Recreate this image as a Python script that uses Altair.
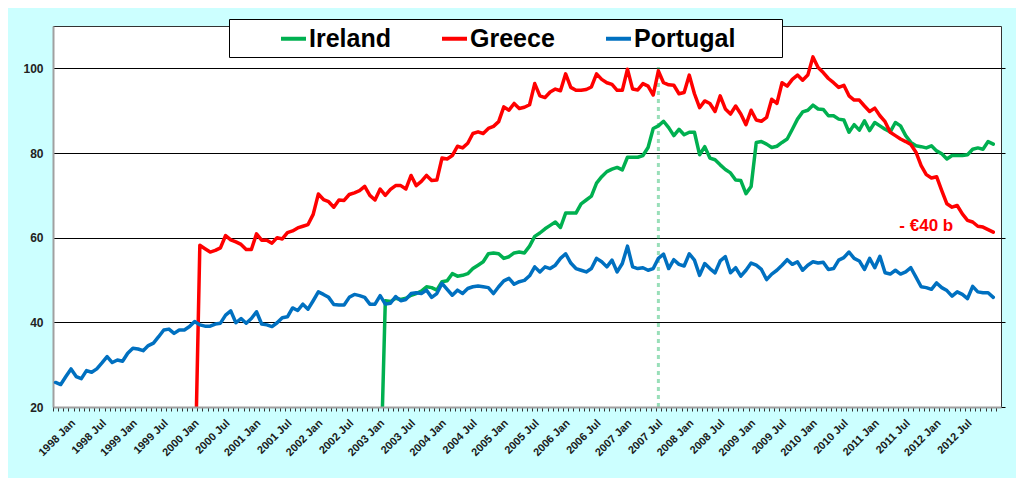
import altair as alt
import pandas as pd

# ---------------- data ----------------
START_YEAR = 1997
START_MONTH = 10          # first category: 1997 Oct
N_CATEGORIES = 184        # 1997 Oct .. 2013 Jan (last one empty)

series_names = ["Ireland", "Greece", "Portugal"]
series_colors = ["#00B050", "#FF0000", "#0070C0"]

ireland = [None] * 63 + [
    0,
    45.1, 44.9, 45.7, 45.4, 45.7, 46.4, 46.8, 47.4, 48.4, 48.2,
    47.6, 49.6, 49.8, 51.5, 50.9, 51.1, 51.5, 52.7, 53.5, 54.3,
    56.2, 56.4, 56.2, 55.1, 55.5, 56.4, 56.6, 56.4, 58.0, 60.3,
    61.1, 62.1, 62.9, 63.7, 62.4, 65.8, 65.8, 65.8, 68.0, 68.9,
    69.8, 72.9, 74.4, 75.6, 76.2, 76.6, 76.0, 79.0, 79.0, 79.0,
    79.4, 81.3, 85.8, 86.4, 87.5, 86.0, 84.1, 85.6, 84.3, 84.9,
    84.9, 79.6, 81.5, 78.8, 78.4, 77.2, 76.1, 75.3, 73.6, 73.5,
    70.4, 72.1, 82.5, 82.7, 82.1, 81.3, 81.6, 82.5, 83.3, 85.6,
    88.0, 89.7, 90.1, 91.3, 90.4, 90.3, 88.8, 88.8, 88.0, 87.8,
    84.9, 86.7, 85.4, 87.6, 85.3, 87.2, 86.4, 85.6, 85.0, 87.2,
    86.4, 84.1, 82.5, 81.7, 81.5, 81.2, 81.7, 80.5, 79.8, 78.6,
    79.4, 79.4, 79.4, 79.6, 80.9, 81.2, 80.9, 82.7, 82.1,
]

greece = [None] * 27 + [
    0,
    58.2, 57.4, 56.6, 57.0, 57.6, 60.5, 59.5, 59.0, 58.4, 57.2,
    57.2, 60.9, 59.4, 59.4, 58.7, 60.0, 59.7, 61.2, 61.6, 62.3,
    62.7, 63.1, 65.5, 70.3, 69.0, 68.5, 67.2, 68.9, 68.8, 70.2,
    70.6, 71.1, 72.1, 70.0, 68.9, 71.5, 70.0, 71.4, 72.3, 72.3,
    71.5, 74.7, 72.3, 73.3, 74.7, 73.5, 73.6, 78.8, 78.6, 79.4,
    81.6, 81.2, 82.3, 84.6, 85.0, 84.6, 85.8, 86.3, 87.4, 90.9,
    90.1, 91.7, 90.5, 90.8, 91.4, 96.4, 93.5, 93.1, 94.4, 95.1,
    94.7, 98.7, 95.5, 94.8, 94.8, 95.0, 95.6, 98.7, 97.4, 96.6,
    96.2, 94.8, 94.8, 99.8, 95.1, 94.9, 96.4, 95.8, 93.7, 99.4,
    96.6, 96.1, 96.0, 94.0, 94.3, 98.4, 94.0, 90.7, 92.3, 91.7,
    89.8, 93.5, 90.4, 89.2, 91.1, 89.2, 86.7, 90.1, 87.8, 87.5,
    88.4, 92.7, 91.7, 96.6, 95.8, 97.4, 98.4, 97.2, 98.4, 102.7,
    100.2, 99.0, 97.6, 96.6, 95.5, 96.0, 93.5, 92.5, 92.5, 91.1,
    89.8, 90.6, 88.8, 87.4, 84.9, 84.1, 83.3, 82.7, 82.0, 80.2,
    77.0, 74.9, 74.1, 74.4, 71.1, 68.0, 67.2, 67.6, 65.6, 64.1,
    63.7, 62.7, 62.5, 61.9, 61.3,
]

portugal = [
    25.8, 25.3, 27.2, 29.0, 27.2, 26.7, 28.6, 28.2, 29.0, 30.4,
    31.9, 30.5, 31.1, 30.8, 32.7, 33.9, 33.7, 33.3, 34.5, 35.1,
    36.6, 38.2, 38.4, 37.4, 38.2, 38.2, 39.0, 40.2, 39.4, 39.1,
    39.1, 39.6, 39.8, 41.7, 42.7, 39.9, 40.9, 39.8, 40.9, 42.5,
    39.6, 39.4, 39.0, 39.9, 41.1, 41.3, 43.4, 42.8, 44.3, 43.1,
    45.1, 47.2, 46.6, 45.9, 44.2, 44.1, 44.1, 45.9, 46.6, 46.3,
    45.9, 44.3, 44.3, 46.3, 44.3, 44.5, 46.1, 45.1, 45.4, 46.8,
    47.0, 46.8, 47.6, 45.9, 46.8, 49.2, 47.8, 46.4, 47.6, 46.8,
    48.0, 48.4, 48.6, 48.4, 48.2, 46.8, 48.4, 49.8, 50.4, 49.0,
    49.6, 49.9, 51.0, 53.1, 51.9, 53.1, 52.7, 53.5, 55.1, 56.2,
    54.0, 52.7, 52.3, 51.9, 52.7, 55.1, 54.3, 53.1, 54.7, 51.9,
    53.9, 58.0, 53.1, 52.7, 52.9, 52.3, 52.7, 55.1, 56.1, 52.7,
    54.8, 53.7, 53.3, 56.2, 54.7, 51.1, 53.9, 52.7, 51.7, 54.5,
    55.5, 51.7, 52.9, 50.9, 52.3, 54.0, 53.5, 52.5, 50.1, 51.4,
    52.3, 53.5, 54.8, 53.7, 54.3, 52.3, 53.5, 54.3, 54.0, 54.2,
    52.5, 52.7, 54.7, 55.3, 56.6, 55.1, 54.5, 52.5, 55.1, 52.9,
    55.6, 51.7, 51.4, 52.3, 51.4, 51.9, 52.9, 50.7, 48.4, 48.2,
    47.8, 49.3, 48.2, 47.5, 46.2, 47.2, 46.6, 45.6, 48.5, 47.2,
    47.0, 47.0, 45.9,
]

MON = ["Jan", "Feb", "Mar", "Apr", "May", "Jun", "Jul", "Aug", "Sep", "Oct", "Nov", "Dec"]
months = []                     # category labels, 1997 Oct .. 2013 Jan
for i in range(N_CATEGORIES):
    k = START_MONTH - 1 + i
    months.append(f"{START_YEAR + k // 12} {MON[k % 12]}")

tick_labels = [f"{y} {m}" for y in range(1998, 2013) for m in ("Jan", "Jul")]

marker_month = "2007 Jul"
marker_range = [20, 100.5]

annotation_text = "- €40 b"
annotation_month = "2011 Nov"
annotation_value = 62.7

# ---------------- tables ----------------
rows = []
for name, vals in zip(series_names, [ireland, greece, portugal]):
    for i, v in enumerate(vals):
        if v is not None:
            rows.append({"series": name, "month": months[i], "value": v})
df = pd.DataFrame(rows)

marker_df = pd.DataFrame([{"month": marker_month,
                           "value": marker_range[0], "value2": marker_range[1]}])
annot_df = pd.DataFrame([{"month": annotation_month,
                          "value": annotation_value, "text": annotation_text}])

W, H = 948, 381
STEP = W / N_CATEGORIES
FONT = "Liberation Sans"

x_scale = alt.Scale(type="point", domain=months, padding=0.5)
y_scale = alt.Scale(domain=[20, 110], nice=False, zero=False)

# axis with the monthly ticks (between categories) and the axis line
x_ticks = alt.X(
    "month:O", scale=x_scale,
    axis=alt.Axis(
        orient="bottom", labels=False, tickSize=4, tickOffset=-STEP / 2,
        tickColor="#333333", tickWidth=1, domainColor="#A0A0A0", domainWidth=2,
        grid=False, title=None, zindex=1,
    ),
)
# axis with the rotated half-year labels
x_labels = alt.X(
    "month:O", scale=x_scale,
    axis=alt.Axis(
        orient="bottom", values=tick_labels,
        labelAngle=315, labelAlign="right", labelBaseline="top",
        labelOffset=-2, labelPadding=10, labelOverlap=False, labelBound=False,
        labelFlush=False, labelFont=FONT, labelFontSize=11,
        labelFontWeight="bold", labelColor="#1a1a1a",
        ticks=False, tickSize=0, domain=False, grid=False, title=None, zindex=1,
    ),
)
y_left = alt.Y(
    "value:Q", scale=y_scale,
    axis=alt.Axis(
        values=[20, 40, 60, 80, 100], grid=True, gridColor="black", gridWidth=1,
        ticks=False, labelPadding=10, labelFont=FONT, labelFontSize=12,
        labelFontWeight="bold", labelColor="#222222",
        domainColor="#A0A0A0", domainWidth=2, title=None,
    ),
)
y_right = alt.Y(
    "value:Q", scale=y_scale,
    axis=alt.Axis(
        orient="right", values=[20, 40, 60, 80, 100], labels=False,
        tickSize=4, tickColor="black", tickWidth=1, domain=False,
        grid=False, title=None,
    ),
)

color_enc = alt.Color(
    "series:N",
    scale=alt.Scale(domain=series_names, range=series_colors),
    legend=alt.Legend(
        orient="none", legendX=176, legendY=-7, direction="horizontal",
        title="MM", titleOrient="left", titleFont=FONT, titleFontSize=24,
        titleFontWeight="bold", titleColor="white", titlePadding=5,
        symbolType="stroke", symbolSize=625, symbolStrokeWidth=4,
        labelFont=FONT, labelFontSize=25, labelFontWeight="bold",
        labelColor="black", labelOffset=1, labelLimit=400,
        labelExpr="datum.label == 'Portugal' ? 'Portugal\u2800\u2009\u2800' : datum.label",
        columnPadding=43, padding=5, fillColor="white", strokeColor="black",
    ),
)

marker = alt.Chart(marker_df).mark_rule(
    color="#00B050", opacity=0.4, strokeWidth=3, strokeDash=[4, 4]
).encode(x=x_ticks, y=y_right, y2="value2:Q")

lines = [
    alt.Chart(df).transform_filter(alt.datum.series == name).mark_line(
        strokeWidth=3.5, clip=True, strokeJoin="round", strokeCap="round"
    ).encode(x=x_labels, y=y_left, color=color_enc)
    for name in series_names
]

annot = alt.Chart(annot_df).mark_text(
    font=FONT, fontSize=17, fontWeight="bold", color="#FF0000",
    align="center", baseline="middle",
).encode(x=x_labels, y=y_left, text="text:N")

inner = alt.layer(*lines, annot)

chart = alt.layer(marker, inner).resolve_axis(x="independent", y="independent").properties(
    width=W,
    height=H,
    padding={"left": 45, "top": 18, "right": 15, "bottom": 71},
    autosize=alt.AutoSizeParams(type="none"),
    background="#CCFFFF",
).configure_view(stroke="#333333", strokeWidth=1, fill="white")

chart.save("out.html", embed_options={"renderer": "svg", "actions": False})
